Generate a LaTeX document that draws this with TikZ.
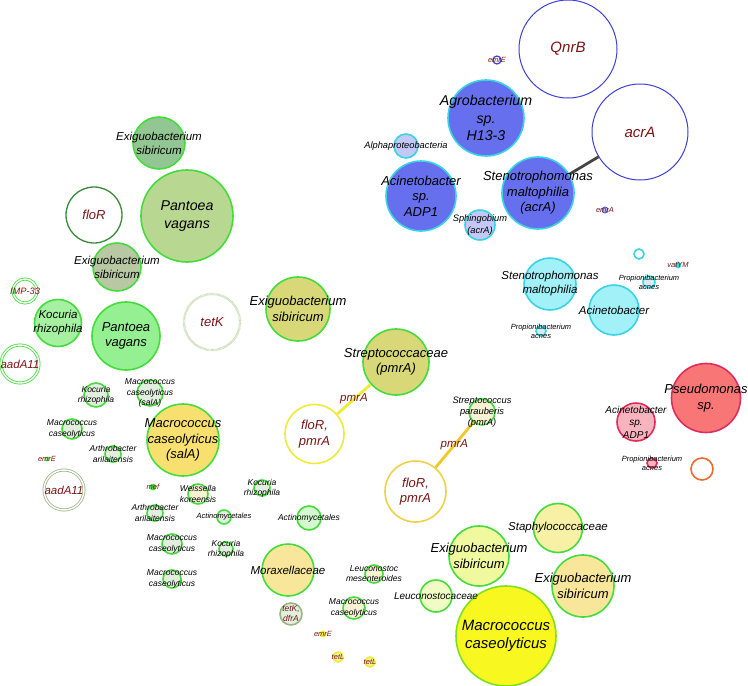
\documentclass[tikz,border=0pt]{standalone}
\usepackage{fontspec}
\setmainfont{Liberation Sans}
\usepackage{xcolor}
\definecolor{geneRed}{HTML}{7A1414}
\definecolor{indigo}{HTML}{6670EE}
\definecolor{lavender}{HTML}{C4C8F4}
\definecolor{aquaEdge}{HTML}{38D4E4}
\definecolor{aqua}{HTML}{A2F0F8}
\definecolor{paleAqua}{HTML}{D4ECF4}
\definecolor{ringBlue}{HTML}{3C40D8}
\definecolor{salmon}{HTML}{F87676}
\definecolor{rose}{HTML}{F8B4BE}
\definecolor{crimson}{HTML}{E02C5C}
\definecolor{tangerine}{HTML}{F06A2C}
\definecolor{leaf}{HTML}{44DC3C}
\definecolor{forest}{HTML}{3A8A3A}
\definecolor{olive}{HTML}{9CB484}
\definecolor{paleLeaf}{HTML}{C8DCB4}
\definecolor{sage}{HTML}{92C692}
\definecolor{sageGrey}{HTML}{B8C8A2}
\definecolor{pear}{HTML}{B8D892}
\definecolor{mint}{HTML}{94F090}
\definecolor{mintLight}{HTML}{A6F0A2}
\definecolor{frost}{HTML}{E2EEDE}
\definecolor{mintPale}{HTML}{D4F8D0}
\definecolor{khaki}{HTML}{D8D878}
\definecolor{goldFill}{HTML}{F8E070}
\definecolor{sand}{HTML}{F8E69A}
\definecolor{straw}{HTML}{F8F0A4}
\definecolor{lemon}{HTML}{F0F8A0}
\definecolor{lemonPale}{HTML}{F0FCC4}
\definecolor{cream}{HTML}{F6F2D2}
\definecolor{canary}{HTML}{F8F820}
\definecolor{chartreuse}{HTML}{80E020}
\definecolor{sun}{HTML}{ECEC38}
\definecolor{amberEdge}{HTML}{F0D048}
\definecolor{mustard}{HTML}{F0C828}
\definecolor{linkGrey}{HTML}{444444}
\tikzset{
  bub/.style={circle, inner sep=0pt, line width=1.6pt, draw=leaf},
  ring/.style={bub, fill=white},
  dring/.style={circle, inner sep=0pt, draw=#1, line width=0.8pt, double=white, double distance=1.4pt},
  hatchring/.style={circle, inner sep=0pt, draw=paleLeaf, line width=2.4pt, dash pattern=on 0.6pt off 0.6pt},
  lab/.style={align=center, inner sep=0pt},
  sz7/.style={lab, font=\fontsize{7.5}{9}\selectfont\itshape},
  sz8/.style={lab, font=\fontsize{8.5}{10.2}\selectfont\itshape},
  sz9/.style={lab, font=\fontsize{9.3}{11.2}\selectfont\itshape},
  sz10/.style={lab, font=\fontsize{10}{12.5}\selectfont\itshape},
  sz11/.style={lab, font=\fontsize{11.5}{14}\selectfont\itshape},
  sz13/.style={lab, font=\fontsize{13}{15.6}\selectfont\itshape},
  sz14/.style={lab, font=\fontsize{14.2}{17.6}\selectfont\itshape},
  sz15/.style={lab, font=\fontsize{15}{18}\selectfont\itshape},
  gene/.style={text=geneRed},
  link/.style={line width=2.8pt},
}

\begin{document}
\begin{tikzpicture}[x=1pt, y=-1pt]
\useasboundingbox (0,0) rectangle (748,686);

\node[ring, draw=ringBlue, line width=1pt, minimum size=98] (qnrB) at (568,49) {};
\node[ring, draw=ringBlue, line width=1pt, minimum size=96] (acrA) at (640,132) {};
\node[ring, draw=ringBlue, line width=1.2pt, minimum size=8] (emrE1) at (497,60) {};
\node[bub, draw=aquaEdge, fill=indigo, minimum size=76] (agro) at (486,118) {};
\node[bub, draw=aquaEdge, fill=lavender, minimum size=24] (alpha) at (406,146) {};
\node[bub, draw=aquaEdge, fill=indigo, minimum size=70] (acinB) at (421,196) {};
\node[bub, draw=aquaEdge, fill=indigo, minimum size=72] (stenoA) at (538,193) {};
\node[bub, draw=aquaEdge, fill=lavender, minimum size=30] (sphingo) at (480,225) {};
\node[bub, draw=ringBlue, fill=lavender, line width=0.8pt, minimum size=6] (emrA) at (605,210) {};

\node[ring, draw=aquaEdge, minimum size=10] (cyanDot) at (639,254) {};
\node[bub, draw=aquaEdge, fill=aquaEdge, minimum size=5] (vatYM) at (678,265) {};
\node[bub, draw=aquaEdge, fill=paleAqua, minimum size=12] (propA) at (649,282) {};
\node[bub, draw=aquaEdge, fill=aqua, minimum size=52] (stenoC) at (550,284) {};
\node[bub, draw=aquaEdge, fill=aqua, minimum size=50] (acinC) at (614,310) {};
\node[bub, draw=aquaEdge, fill=paleAqua, minimum size=10] (propB) at (541,331) {};

\node[bub, draw=crimson, fill=salmon, minimum size=69] (pseudo) at (706,398) {};
\node[bub, draw=crimson, fill=rose, minimum size=38] (acinR) at (636,422) {};
\node[bub, draw=crimson, fill=rose, minimum size=10] (propR) at (652,463) {};
\node[ring, draw=tangerine, minimum size=22] (orangeDot) at (702,469) {};

\node[bub, fill=sage, minimum size=52] (exiguD) at (159,143) {};
\node[ring, draw=forest, line width=1.3pt, minimum size=56] (floR) at (94,215) {};
\node[bub, fill=pear, minimum size=92] (pantoL) at (187,216) {};
\node[bub, fill=sageGrey, minimum size=48] (exiguG) at (117,267) {};
\node[dring=leaf, minimum size=24] (imp) at (25,291) {};
\node[bub, fill=mintLight, minimum size=47] (kocA) at (58,323) {};
\node[bub, fill=mint, minimum size=68] (pantoB) at (126,336) {};
\node[hatchring, minimum size=56] (tetK) at (212,322) {};
\node[dring=leaf, minimum size=38] (aadA1) at (20,364) {};
\node[bub, fill=frost, minimum size=24] (kocB) at (96,395) {};
\node[bub, fill=frost, minimum size=26] (macSa) at (150,393) {};
\node[bub, fill=frost, minimum size=20] (macA) at (72,429) {};
\node[bub, fill=frost, minimum size=16] (arthA) at (113,454) {};
\node[bub, fill=mintLight, line width=0.8pt, minimum size=4] (emrE2) at (47,459) {};
\node[dring=olive, minimum size=40] (aadA2) at (64,490) {};
\node[bub, fill=goldFill, minimum size=72] (macSb) at (183,440) {};
\node[bub, fill=leaf, line width=0.8pt, minimum size=6] (mef) at (153,487) {};
\node[bub, fill=cream, minimum size=20] (weiss) at (198,494) {};
\node[bub, fill=frost, minimum size=16] (kocC) at (262,488) {};
\node[bub, fill=frost, minimum size=16] (arthB) at (155,513) {};
\node[bub, fill=frost, minimum size=14] (actA) at (224,517) {};
\node[bub, fill=frost, minimum size=20] (macB) at (172,544) {};
\node[bub, fill=frost, minimum size=14] (kocD) at (226,549) {};
\node[bub, fill=frost, minimum size=18] (macC) at (172,579) {};
\node[bub, fill=mintPale, minimum size=24] (actB) at (309,518) {};
\node[bub, fill=sand, minimum size=52] (morax) at (288,570) {};
\node[bub, draw=olive, fill=frost, minimum size=22] (tetKd) at (291,614) {};
\node[bub, fill=cream, minimum size=18] (leucM) at (374,574) {};
\node[bub, fill=cream, minimum size=22] (macD) at (354,608) {};
\node[bub, draw=sun, fill=canary, line width=0.8pt, minimum size=6] (emrE3) at (323,634) {};
\node[bub, draw=sun, fill=straw, minimum size=10] (tetL1) at (338,657) {};
\node[bub, draw=sun, fill=straw, minimum size=10] (tetL2) at (370,662) {};
\node[bub, fill=lemonPale, minimum size=32] (leucC) at (436,596) {};
\node[bub, fill=lemon, minimum size=60] (exiguY) at (479,556) {};
\node[bub, fill=straw, minimum size=49] (staph) at (558,528) {};
\node[bub, fill=sand, minimum size=62] (exiguR) at (583,586) {};
\node[bub, draw=chartreuse, fill=canary, minimum size=100] (macBig) at (506,636) {};
\node[ring, draw=amberEdge, minimum size=61] (floP2) at (415.5,491.5) {};
\node[bub, fill=khaki, minimum size=64] (exiguO) at (298,309) {};
\node[bub, fill=khaki, minimum size=66] (strepC) at (396,362) {};
\node[ring, draw=sun, minimum size=59] (floP1) at (314.5,434) {};
\node[bub, fill=cream, minimum size=26] (parau) at (482,412) {};

\draw[link, linkGrey] (stenoA) -- (acrA);
\draw[link, sun] (strepC) -- node[sz11, gene] (pmr1) {pmrA} (floP1);
\draw[link, mustard] (parau) -- node[sz11, gene] (pmr2) {pmrA} (floP2);

\node[sz15, gene] (qnrB-t) at (qnrB) {QnrB};
\node[sz15, gene] (acrA-t) at (acrA) {acrA};
\node[sz7, gene] (emrE1-t) at (emrE1) {emrE};
\node[sz14] (agro-t) at (agro) {Agrobacterium\\sp.\\H13-3};
\node[sz9] (alpha-t) at (alpha) {Alphaproteobacteria};
\node[sz13] (acinB-t) at (acinB) {Acinetobacter\\sp.\\ADP1};
\node[sz13] (stenoA-t) at (stenoA) {Stenotrophomonas\\maltophilia\\(acrA)};
\node[sz9] (sphingo-t) at (sphingo) {Sphingobium\\(acrA)};
\node[sz7, gene] (emrA-t) at (emrA) {emrA};
\node[sz7, gene] (vatYM-t) at (vatYM) {vatYM};
\node[sz7] (propA-t) at (propA) {Propionibacterium\\acnes};
\node[sz11] (stenoC-t) at (stenoC) {Stenotrophomonas\\maltophilia};
\node[sz11] (acinC-t) at (acinC) {Acinetobacter};
\node[sz7] (propB-t) at (propB) {Propionibacterium\\acnes};
\node[sz13] (pseudo-t) at (pseudo) {Pseudomonas\\sp.};
\node[sz10] (acinR-t) at (acinR) {Acinetobacter\\sp.\\ADP1};
\node[sz7] (propR-t) at (propR) {Propionibacterium\\acnes};
\node[sz11] (exiguD-t) at (exiguD) {Exiguobacterium\\sibiricum};
\node[sz13, gene] (floR-t) at (floR) {floR};
\node[sz14] (pantoL-t) at (pantoL) {Pantoea\\vagans};
\node[sz11] (exiguG-t) at (exiguG) {Exiguobacterium\\sibiricum};
\node[sz9, gene] (imp-t) at (imp) {IMP-33};
\node[sz11] (kocA-t) at (kocA) {Kocuria\\rhizophila};
\node[sz13] (pantoB-t) at (pantoB) {Pantoea\\vagans};
\node[sz13, gene] (tetK-t) at (tetK) {tetK};
\node[sz11, gene] (aadA1-t) at (aadA1) {aadA11};
\node[sz8] (kocB-t) at (kocB) {Kocuria\\rhizophila};
\node[sz8] (macSa-t) at (macSa) {Macrococcus\\caseolyticus\\(salA)};
\node[sz8] (macA-t) at (macA) {Macrococcus\\caseolyticus};
\node[sz8] (arthA-t) at (arthA) {Arthrobacter\\arilaitensis};
\node[sz7, gene] (emrE2-t) at (emrE2) {emrE};
\node[sz11, gene] (aadA2-t) at (aadA2) {aadA11};
\node[sz13] (macSb-t) at (macSb) {Macrococcus\\caseolyticus\\(salA)};
\node[sz7, gene] (mef-t) at (mef) {mef};
\node[sz8] (weiss-t) at (weiss) {Weissella\\koreensis};
\node[sz8] (kocC-t) at (kocC) {Kocuria\\rhizophila};
\node[sz8] (arthB-t) at (arthB) {Arthrobacter\\arilaitensis};
\node[sz7] (actA-t) at (actA) {Actinomycetales};
\node[sz8] (macB-t) at (macB) {Macrococcus\\caseolyticus};
\node[sz8] (kocD-t) at (kocD) {Kocuria\\rhizophila};
\node[sz8] (macC-t) at (macC) {Macrococcus\\caseolyticus};
\node[sz8] (actB-t) at (actB) {Actinomycetales};
\node[sz11] (morax-t) at (morax) {Moraxellaceae};
\node[sz8, gene] (tetKd-t) at (tetKd) {tetK,\\dfrA};
\node[sz8] (leucM-t) at (leucM) {Leuconostoc\\mesenteroides};
\node[sz8] (macD-t) at (macD) {Macrococcus\\caseolyticus};
\node[sz7, gene] (emrE3-t) at (emrE3) {emrE};
\node[sz7, gene] (tetL1-t) at (tetL1) {tetL};
\node[sz7, gene] (tetL2-t) at (tetL2) {tetL};
\node[sz10] (leucC-t) at (leucC) {Leuconostocaceae};
\node[sz13] (exiguY-t) at (exiguY) {Exiguobacterium\\sibiricum};
\node[sz11] (staph-t) at (staph) {Staphylococcaceae};
\node[sz13] (exiguR-t) at (exiguR) {Exiguobacterium\\sibiricum};
\node[sz15] (macBig-t) at (macBig) {Macrococcus\\caseolyticus};
\node[sz13, gene] (floP2-t) at (floP2) {floR,\\pmrA};
\node[sz13] (exiguO-t) at (exiguO) {Exiguobacterium\\sibiricum};
\node[sz13] (strepC-t) at (strepC) {Streptococcaceae\\(pmrA)};
\node[sz13, gene] (floP1-t) at (floP1) {floR,\\pmrA};
\node[sz9] (parau-t) at (parau) {Streptococcus\\parauberis\\(pmrA)};
\end{tikzpicture}
\end{document}
